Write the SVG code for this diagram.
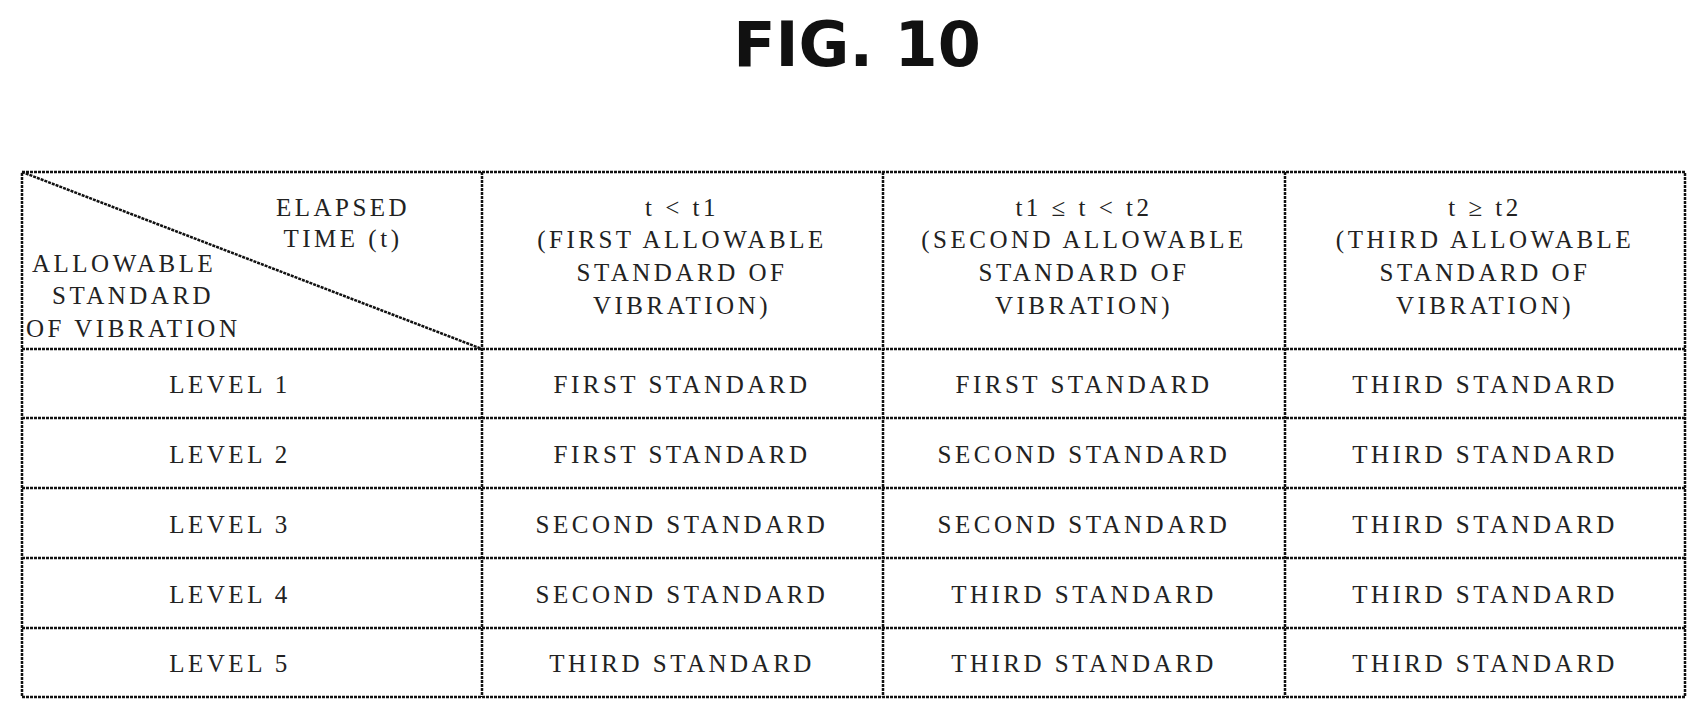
<svg xmlns="http://www.w3.org/2000/svg" width="1706" height="720" viewBox="0 0 1706 720">
<style>
.t{font-family:"Liberation Serif",serif;font-size:25px;fill:#222;text-anchor:middle;letter-spacing:3.5px}
.s{text-anchor:start}
.l{stroke:#111;stroke-width:2.5;fill:none;stroke-dasharray:3 1}
</style>
<rect width="1706" height="720" fill="#fff"/>
<text x="857" y="66" font-family="DejaVu Sans,sans-serif" font-weight="bold" font-size="62" text-anchor="middle" fill="#111">FIG. 10</text>
<g id="connectors">
<rect class="l" x="22" y="172" width="1663" height="525"/>
<line class="l" x1="482" y1="172" x2="482" y2="697"/>
<line class="l" x1="883" y1="172" x2="883" y2="697"/>
<line class="l" x1="1285" y1="172" x2="1285" y2="697"/>
<line class="l" x1="22" y1="349" x2="1685" y2="349"/>
<line class="l" x1="22" y1="418" x2="1685" y2="418"/>
<line class="l" x1="22" y1="488" x2="1685" y2="488"/>
<line class="l" x1="22" y1="558" x2="1685" y2="558"/>
<line class="l" x1="22" y1="628" x2="1685" y2="628"/>
<line class="l" x1="22" y1="172" x2="482" y2="349"/>
</g>
<g id="header0">
<text class="t" x="343" y="216">ELAPSED</text>
<text class="t" x="343" y="247">TIME (t)</text>
<text class="t s" x="32" y="272">ALLOWABLE</text>
<text class="t s" x="52" y="304">STANDARD</text>
<text class="t s" x="26" y="337">OF VIBRATION</text>
</g>
<g id="header1"><text class="t" x="682" y="216">t &lt; t1</text><text class="t" x="682" y="248">(FIRST ALLOWABLE</text><text class="t" x="682" y="281">STANDARD OF</text><text class="t" x="682" y="314">VIBRATION)</text></g>
<g id="header2"><text class="t" x="1084" y="216">t1 ≤ t &lt; t2</text><text class="t" x="1084" y="248">(SECOND ALLOWABLE</text><text class="t" x="1084" y="281">STANDARD OF</text><text class="t" x="1084" y="314">VIBRATION)</text></g>
<g id="header3"><text class="t" x="1485" y="216">t ≥ t2</text><text class="t" x="1485" y="248">(THIRD ALLOWABLE</text><text class="t" x="1485" y="281">STANDARD OF</text><text class="t" x="1485" y="314">VIBRATION)</text></g>
<g id="row1"><text class="t" x="230" y="393">LEVEL 1</text><text class="t" x="682" y="393">FIRST STANDARD</text><text class="t" x="1084" y="393">FIRST STANDARD</text><text class="t" x="1485" y="393">THIRD STANDARD</text></g>
<g id="row2"><text class="t" x="230" y="463">LEVEL 2</text><text class="t" x="682" y="463">FIRST STANDARD</text><text class="t" x="1084" y="463">SECOND STANDARD</text><text class="t" x="1485" y="463">THIRD STANDARD</text></g>
<g id="row3"><text class="t" x="230" y="533">LEVEL 3</text><text class="t" x="682" y="533">SECOND STANDARD</text><text class="t" x="1084" y="533">SECOND STANDARD</text><text class="t" x="1485" y="533">THIRD STANDARD</text></g>
<g id="row4"><text class="t" x="230" y="603">LEVEL 4</text><text class="t" x="682" y="603">SECOND STANDARD</text><text class="t" x="1084" y="603">THIRD STANDARD</text><text class="t" x="1485" y="603">THIRD STANDARD</text></g>
<g id="row5"><text class="t" x="230" y="672">LEVEL 5</text><text class="t" x="682" y="672">THIRD STANDARD</text><text class="t" x="1084" y="672">THIRD STANDARD</text><text class="t" x="1485" y="672">THIRD STANDARD</text></g>
</svg>
